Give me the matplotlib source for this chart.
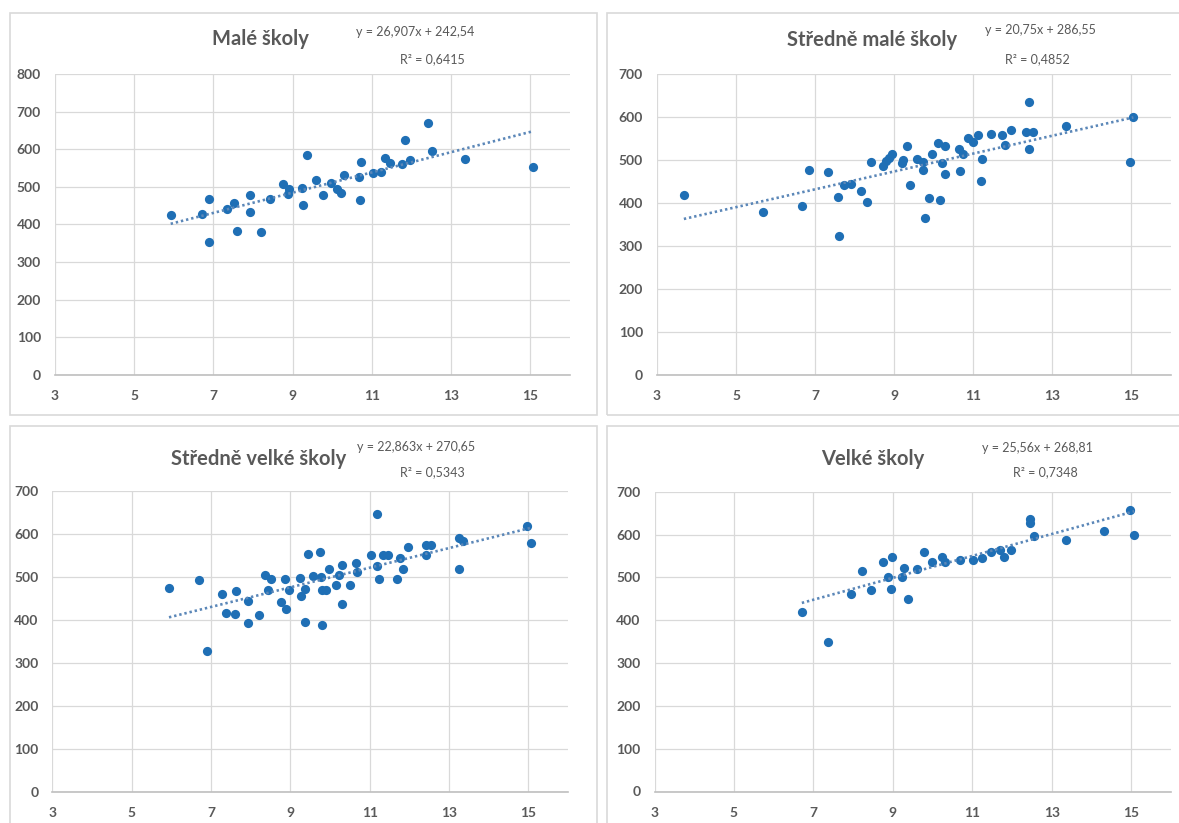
import numpy as np
import matplotlib
matplotlib.use("Agg")
import matplotlib.pyplot as plt
from matplotlib.patches import Rectangle

plt.rcParams['font.family'] = ['Lato', 'DejaVu Sans']

W, H = 1179, 823

titles = ["Malé školy", "Středně malé školy", "Středně velké školy", "Velké školy"]
slopes = [26.907, 20.75, 22.863, 25.56]
intercepts = [242.54, 286.55, 270.65, 268.81]
eq_texts = ["y = 26,907x + 242,54", "y = 20,75x + 286,55",
            "y = 22,863x + 270,65", "y = 25,56x + 268,81"]
r2_texts = ["R² = 0,6415", "R² = 0,4852", "R² = 0,5343", "R² = 0,7348"]
y_max = [800, 700, 700, 700]
x_ticks = [3, 5, 7, 9, 11, 13, 15]

# male skoly
x_male = [5.92, 6.70, 6.89, 6.89, 7.35, 7.52, 7.59, 7.92, 7.92, 8.19, 8.42, 8.76,
          8.91, 8.87, 9.23, 9.25, 9.35, 9.59, 9.76, 9.96, 10.13, 10.23, 10.30,
          10.67, 10.72, 10.69, 11.02, 11.22, 11.32, 11.46, 11.77, 11.96, 11.83,
          12.42, 12.52, 13.36, 15.06]
y_male = [424, 427, 469, 353, 440, 458, 384, 479, 433, 380, 468, 507,
          495, 482, 498, 453, 584, 518, 478, 511, 495, 483, 532,
          527, 567, 465, 536, 540, 578, 564, 560, 571, 624,
          669, 596, 574, 553]

# stredne male skoly
x_sm = [3.68, 5.69, 6.66, 6.86, 7.32, 7.61, 7.57, 7.73, 7.91, 8.17, 8.31, 8.41,
        8.73, 8.81, 8.88, 8.94, 9.21, 9.23, 9.34, 9.40, 9.57, 9.74, 9.74, 9.78,
        9.88, 9.95, 10.11, 10.17, 10.21, 10.28, 10.28, 10.64, 10.67, 10.74,
        10.88, 11.01, 11.12, 11.19, 11.22, 11.46, 11.73, 11.82, 11.95, 12.34,
        12.43, 12.43, 12.53, 13.36, 14.97, 15.06]
y_sm = [418, 378, 394, 477, 471, 324, 415, 443, 445, 428, 403, 495,
        487, 498, 505, 515, 493, 501, 533, 443, 502, 495, 477, 366,
        412, 515, 540, 406, 493, 532, 467, 526, 474, 515,
        551, 543, 557, 450, 502, 561, 557, 536, 569, 565,
        634, 526, 565, 578, 495, 600]

# stredne velke skoly
x_sv = [5.94, 6.70, 6.89, 7.27, 7.38, 7.61, 7.63, 7.92, 7.92, 8.20, 8.36, 8.50,
        8.43, 8.77, 8.89, 8.87, 8.97, 9.24, 9.26, 9.36, 9.37, 9.44, 9.58, 9.75,
        9.76, 9.79, 9.80, 9.90, 9.97, 10.14, 10.23, 10.29, 10.29, 10.50, 10.66,
        10.67, 11.03, 11.19, 11.19, 11.23, 11.33, 11.47, 11.70, 11.76, 11.83,
        11.96, 12.42, 12.42, 12.54, 13.25, 13.36, 13.26, 14.96, 15.07]
y_sv = [475, 494, 328, 460, 416, 415, 467, 444, 393, 411, 506, 496,
        469, 442, 426, 496, 471, 498, 457, 473, 395, 553, 502, 558,
        500, 469, 389, 469, 518, 481, 504, 528, 438, 481, 533,
        512, 552, 648, 525, 496, 552, 552, 496, 545, 518,
        570, 552, 575, 575, 592, 585, 518, 619, 579]

# velke skoly
x_vel = [6.71, 7.38, 7.94, 8.22, 8.45, 8.76, 8.87, 8.95, 8.98, 9.24, 9.28, 9.38,
         9.61, 9.78, 9.98, 10.24, 10.31, 10.68, 11.03, 11.24, 11.47, 11.71,
         11.79, 11.98, 12.45, 12.45, 12.55, 13.37, 14.31, 14.98, 15.08]
y_vel = [420, 349, 460, 516, 470, 537, 501, 473, 548, 502, 522, 449,
         519, 559, 535, 548, 535, 541, 541, 546, 559, 565,
         548, 565, 637, 627, 596, 587, 608, 658, 600]

xs = [x_male, x_sm, x_sv, x_vel]
ys = [y_male, y_sm, y_sv, y_vel]

# plot boxes in pixels: left, top, right, bottom
boxes = [(55, 74, 570, 375), (657, 74, 1170.5, 375),
         (52.4, 491.4, 568, 791.7), (654.5, 491.7, 1170.8, 791.5)]
frames = [(10, 13, 597, 415), (607, 13, 1190, 415),
          (10, 426, 597, 830), (607, 426, 1190, 830)]
title_pos = [(260, 39), (872, 40), (259, 459), (873, 459)]
eq_pos = [(415, 32), (1040, 30), (416, 447), (1037, 448)]
r2_pos = [(432, 59), (1037, 59), (432, 472), (1045, 472)]

fig = plt.figure(figsize=(W / 100, H / 100), dpi=100)
fig.patch.set_facecolor('white')

def fx(x):
    return x / W

def fy(y):
    return 1 - y / H

for i in range(4):
    l, t, r, b = frames[i]
    fig.patches.append(Rectangle((fx(l), fy(b)), fx(r - l), (b - t) / H,
                                 transform=fig.transFigure, fill=False,
                                 edgecolor='#d9d9d9', lw=1.2, zorder=0))

    l, t, r, b = boxes[i]
    ax = fig.add_axes([fx(l), fy(b), fx(r - l), (b - t) / H])
    ax.scatter(xs[i], ys[i], s=44, color='#1f6fb5', zorder=3, linewidths=0)
    x0, x1 = min(xs[i]), max(xs[i])
    tx = np.array([x0, x1])
    ax.plot(tx, slopes[i] * tx + intercepts[i], color='#5b87b8', lw=1.9,
            linestyle=(0, (0.9, 1.1)), zorder=4)
    ax.set_xlim(3, 16)
    ax.set_ylim(0, y_max[i])
    ax.set_xticks(x_ticks)
    ax.set_yticks(range(0, y_max[i] + 1, 100))
    ax.grid(True, color='#d9d9d9', lw=0.9, zorder=0)
    ax.set_axisbelow(True)
    for s in ['top', 'right', 'left']:
        ax.spines[s].set_visible(False)
    ax.spines['bottom'].set_color('#bfbfbf')
    ax.spines['bottom'].set_linewidth(1.2)
    ax.tick_params(length=0, labelsize=10, labelcolor='#595959')
    ax.tick_params(axis='x', pad=11)
    ax.tick_params(axis='y', pad=10)
    for lab in ax.get_xticklabels() + ax.get_yticklabels():
        lab.set_fontweight('bold')

    fig.text(fx(title_pos[i][0]), fy(title_pos[i][1]), titles[i], ha='center',
             va='center', fontsize=14.5, fontweight='bold', color='#595959')
    fig.text(fx(eq_pos[i][0]), fy(eq_pos[i][1]), eq_texts[i], ha='center',
             va='center', fontsize=9, color='#595959')
    fig.text(fx(r2_pos[i][0]), fy(r2_pos[i][1]), r2_texts[i], ha='center',
             va='center', fontsize=9, color='#595959')

fig.savefig("out.png", dpi=100, facecolor='white')
